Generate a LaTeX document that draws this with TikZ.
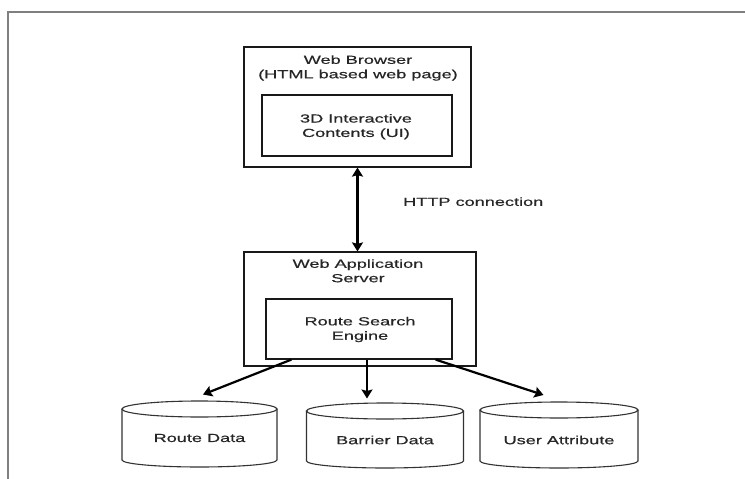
\documentclass[tikz,border=0pt]{standalone}
\usepackage{fontspec}
\newfontfamily\widearial[FakeStretch=1.55,FakeBold=0.6]{Liberation Sans}
\usetikzlibrary{arrows.meta,calc}
\tikzset{
  box/.style={draw=black!90, line width=1.2pt, inner sep=0pt},
  lbl/.style={font=\widearial\fontsize{11.7}{14.4}\selectfont, align=center, text=black!85, inner sep=0pt},
  conn/.style={line width=2.2pt, draw=black, -{Stealth[length=9pt,width=11pt,inset=1.5pt]}},
  conn2/.style={line width=2.2pt, draw=black, {Stealth[length=9pt,width=11pt,inset=1.5pt]}-{Stealth[length=9pt,width=11pt,inset=1.5pt]}},
  framestyle/.style={draw=black!50, line width=2pt},
  db/.style={line width=1.1pt, draw=black!80}
}
\begin{document}
\begin{tikzpicture}[x=1pt,y=-1pt]
\useasboundingbox (0,0) rectangle (745,479);
% outer frame
\draw[framestyle] (8,479) -- (8,12) -- (745,12);

% browser
\node[box, minimum width=227pt, minimum height=120pt] (browser) at (357.5,107) {};
\node[box, minimum width=190pt, minimum height=61pt] (ui) at (357,125.5) {};
\node[lbl] (browsertxt) at (358,68) {Web Browser\\(HTML based web page)};
\node[lbl] (uitxt) at (356,126.7) {3D Interactive\\Contents (UI)};

% server
\node[box, minimum width=232pt, minimum height=114pt] (server) at (360,309) {};
\node[box, minimum width=186pt, minimum height=60pt] (engine) at (359,329) {};
\node[lbl] (servertxt) at (358,270.8) {Web Application\\Server};
\node[lbl] (enginetxt) at (360,329.5) {Route Search\\Engine};

% http connection
\draw[conn2] (browser.south) -- (browser.south |- server.north);
\node[lbl, anchor=west] (http) at (403,201.7) {HTTP connection};

% cylinders
\draw[db] (122,409) -- (122,460) arc[start angle=180, end angle=0, x radius=77.5, y radius=7] -- (277,409);
\draw[db] (199.5,409) ellipse[x radius=77.5, y radius=8];
\node[lbl] (rd) at (199.5,438) {Route Data};

\draw[db] (306.5,411) -- (306.5,461) arc[start angle=180, end angle=0, x radius=78.5, y radius=7] -- (463.5,411);
\draw[db] (385,411) ellipse[x radius=78.5, y radius=8];
\node[lbl] (bd) at (385,440) {Barrier Data};

\draw[db] (480,410) -- (480,461) arc[start angle=180, end angle=0, x radius=79, y radius=7] -- (638,410);
\draw[db] (559,410) ellipse[x radius=79, y radius=8];
\node[lbl] (ua) at (559,440) {User Attribute};

\coordinate (rdtip) at (203,394.5);
\coordinate (bdtip) at (367,398.5);
\coordinate (uatip) at (543.5,395);

\draw[conn] ([xshift=26pt]engine.south west) -- (rdtip);
\draw[conn] ([xshift=8pt]engine.south) -- (bdtip);
\draw[conn] ([xshift=-17pt]engine.south east) -- (uatip);
\end{tikzpicture}
\end{document}
